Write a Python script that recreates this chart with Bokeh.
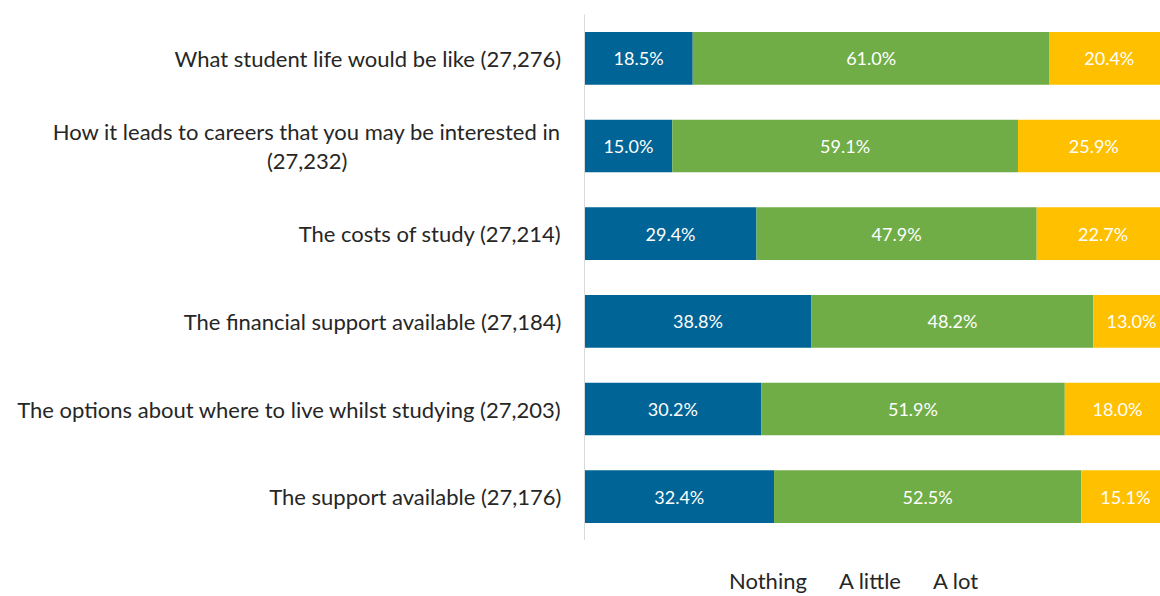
from bokeh.plotting import figure
from bokeh.layouts import column
from bokeh.models import Range1d, FactorRange, ColumnDataSource, Legend, LegendItem
from bokeh.core.properties import value
from bokeh.embed import file_html
from bokeh.resources import INLINE
import numpy as np

categories = [
    "What student life would be like (27,276)",
    "How it leads to careers that you may be interested in\n(27,232)",
    "The costs of study (27,214)",
    "The financial support available (27,184)",
    "The options about where to live whilst studying (27,203)",
    "The support available (27,176)",
]
nothing = [18.5, 15.0, 29.4, 38.8, 30.2, 32.4]
a_little = [61.0, 59.1, 47.9, 48.2, 51.9, 52.5]
a_lot = [20.4, 25.9, 22.7, 13.0, 18.0, 15.1]
series = ["Nothing", "A little", "A lot"]
colors = ["#006496", "#70AD47", "#FFC000"]

FONT = "Lato"

# centre the second line of the wrapped label under the first (labels are right-aligned)
factors = [c + "\u00a0" * 38 if "\n" in c else c for c in categories]

source = ColumnDataSource(dict(cat=factors, Nothing=nothing, **{"A little": a_little, "A lot": a_lot}))

p = figure(
    width=1160, height=540,
    y_range=FactorRange(*reversed(factors), range_padding=0),
    x_range=Range1d(0, 98.46),
    x_axis_location=None,
    output_backend="svg", toolbar_location=None,
    min_border_left=584, min_border_right=0, min_border_top=14, min_border_bottom=0,
)
p.outline_line_color = None
p.background_fill_color = "white"
p.border_fill_color = "white"

renderers = p.hbar_stack(series, y="cat", height=0.6, color=colors, source=source, line_color=None)

# value labels
vals = np.array([nothing, a_little, a_lot])
starts = np.vstack([np.zeros(len(factors)), np.cumsum(vals, axis=0)[:-1]])
centers = starts + vals / 2
lx, ly, lt = [], [], []
for i in range(3):
    for j, c in enumerate(factors):
        lx.append(centers[i][j])
        ly.append(c)
        lt.append(f"{vals[i][j]:.1f}%")
p.text(x=lx, y=ly, text=lt, text_align="center", text_baseline="middle",
       text_color="white", text_font=value(FONT), text_font_size="18px")

p.xgrid.visible = False
p.ygrid.visible = False
ya = p.yaxis[0]
ya.axis_line_color = "#D9D9D9"
ya.major_tick_line_color = None
ya.minor_tick_line_color = None
ya.major_label_text_font = FONT
ya.major_label_text_font_size = "22px"
ya.major_label_text_color = "#262626"
ya.major_label_standoff = 17
ya.major_label_text_line_height = 1.05

# legend strip below the chart (swatch renderers carry the series styles, no marks)
legend_source = ColumnDataSource(dict(cat=[], **{s: [] for s in series}))
p2 = figure(
    width=1160, height=56,
    y_range=FactorRange(*reversed(factors)),
    x_range=Range1d(0, 98.46),
    x_axis_location=None, y_axis_location=None,
    output_backend="svg", toolbar_location=None,
    min_border_left=0, min_border_right=0, min_border_top=0, min_border_bottom=0,
)
p2.outline_line_color = None
p2.xgrid.visible = False
p2.ygrid.visible = False
legend_renderers = p2.hbar_stack(series, y="cat", height=0.6, color=colors,
                                 source=legend_source, line_color=None)

legend = Legend(items=[LegendItem(label=s, renderers=[r]) for s, r in zip(series, legend_renderers)],
                orientation="horizontal", location=(127, 2),
                label_text_font=FONT, label_text_font_size="22px", label_text_color="#262626",
                glyph_width=14, glyph_height=14, spacing=14, label_standoff=4,
                border_line_color=None, background_fill_alpha=0, padding=0, margin=0)
p2.add_layout(legend, "center")

open("out.html", "w").write(file_html(column(p, p2, spacing=0), INLINE))
